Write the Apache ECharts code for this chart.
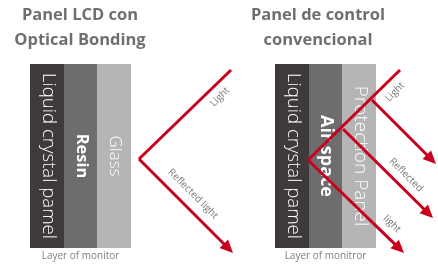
<!DOCTYPE html>
<html><head><meta charset="utf-8">
<script src="https://cdn.jsdelivr.net/npm/echarts@6/dist/echarts.min.js"></script>
<style>html,body{margin:0;padding:0;background:#fff}#c{width:438px;height:264px}</style>
</head><body><div id="c"></div>
<script>
// ---- data ----
const panelTitles = ['Panel LCD con\nOptical Bonding', 'Panel de control\nconvencional'];
const titleCenters = [80, 318];
const captions = ['Layer of monitor', 'Layer of monitror'];
const leftLayerNames = ['Liquid crystal pamel', 'Resin', 'Glass'];
const rightLayerNames = ['Liquid crystal pamel', 'Air space', 'Protection Panel'];
const leftLayerEdges = [30, 64, 97, 131];
const rightLayerEdges = [275, 309, 342, 376];
const layerTop = 64;
const layerBottom = 248;
const captionY = 256;
// rays: [x1, y1, x2, y2]
const incidentRays = [[231, 70, 139, 159], [400, 70, 308, 160]];
const reflectedRays = [[139, 159, 233, 253], [372, 100, 436, 164], [343, 129, 433, 218], [308, 160, 404, 253]];
// labels: [text, x, y, angle]
const rayLabels = [['Light', 220, 97, 45], ['Reflected light', 193, 194, -45], ['Light', 395, 92, 45], ['Reflected', 406, 175, -45], ['light', 392, 224, -45]];

// ---- styles ----
const layerColors = ['#3e3a39', '#6d6d6d', '#b4b5b4'];
const layerWeights = [300, 'bold', 300];
const layerSizes = [[18.6, 16.5, 17], [18.6, 18, 19]];
const RED = '#c8001e';
const FONT = '"Open Sans", sans-serif';

const layerData = [];
[[leftLayerEdges, leftLayerNames], [rightLayerEdges, rightLayerNames]].forEach(([edges, names], p) => {
  names.forEach((n, i) => layerData.push({value: [edges[i], edges[i + 1], layerTop, layerBottom, i, p], name: n}));
});
const captionData = [
  {value: [(leftLayerEdges[0] + leftLayerEdges[3]) / 2, captionY], name: captions[0]},
  {value: [(rightLayerEdges[0] + rightLayerEdges[3]) / 2, captionY], name: captions[1]}
];
const rayData = incidentRays.map(r => ({value: r.concat([0])})).concat(reflectedRays.map(r => ({value: r.concat([1])})));
const labelData = rayLabels.map(l => ({value: [l[1], l[2], l[3]], name: l[0]}));

const chart = echarts.init(document.getElementById('c'), null, {renderer: 'canvas'});
chart.setOption({
  animation: false,
  backgroundColor: '#ffffff',
  title: panelTitles.map((t, i) => ({
    text: t, left: titleCenters[i], top: 3, textAlign: 'center', padding: 0,
    textStyle: {fontFamily: FONT, fontSize: 16.5, fontWeight: 'bold', color: '#6f6f6f', lineHeight: 25}
  })),
  grid: {left: 0, right: 0, top: 0, bottom: 0},
  xAxis: {type: 'value', min: 0, max: 438, show: false},
  yAxis: {type: 'value', min: 0, max: 264, inverse: true, show: false},
  series: [
    {
      type: 'custom', data: layerData, z: 1,
      renderItem: (params, api) => {
        const p0 = api.coord([api.value(0), api.value(2)]);
        const p1 = api.coord([api.value(1), api.value(3)]);
        const i = api.value(4), p = api.value(5);
        const name = layerData[params.dataIndex].name;
        return {type: 'group', children: [
          {type: 'rect', shape: {x: p0[0], y: p0[1], width: p1[0] - p0[0], height: p1[1] - p0[1]}, style: {fill: layerColors[i]}},
          {type: 'text', x: (p0[0] + p1[0]) / 2 + 1, y: (p0[1] + p1[1]) / 2, rotation: -Math.PI / 2,
            style: {text: name, fill: '#ffffff', font: layerWeights[i] + ' ' + layerSizes[p][i] + 'px ' + FONT, align: 'center', verticalAlign: 'middle'}}
        ]};
      }
    },
    {
      type: 'custom', data: captionData, z: 1,
      renderItem: (params, api) => {
        const p = api.coord([api.value(0), api.value(1)]);
        return {type: 'text', x: p[0], y: p[1], style: {text: captionData[params.dataIndex].name, fill: '#808080', font: '10px ' + FONT, align: 'center', verticalAlign: 'middle'}};
      }
    },
    {
      type: 'custom', data: rayData, z: 3,
      renderItem: (params, api) => {
        const a = api.coord([api.value(0), api.value(1)]);
        const b = api.coord([api.value(2), api.value(3)]);
        const arrow = api.value(4);
        const dx = b[0] - a[0], dy = b[1] - a[1];
        const len = Math.sqrt(dx * dx + dy * dy);
        const ux = dx / len, uy = dy / len;
        const children = [];
        const hl = 13, hw = 6;
        const end = arrow ? [b[0] - ux * (hl - 2), b[1] - uy * (hl - 2)] : b;
        children.push({type: 'line', shape: {x1: a[0], y1: a[1], x2: end[0], y2: end[1]}, style: {stroke: RED, lineWidth: 3, lineCap: 'butt'}});
        if (arrow) {
          const bx = b[0] - ux * hl, by = b[1] - uy * hl;
          children.push({type: 'polygon', shape: {points: [[b[0], b[1]], [bx - uy * hw, by + ux * hw], [bx + uy * hw, by - ux * hw]]}, style: {fill: RED}});
        }
        return {type: 'group', children};
      }
    },
    {
      type: 'custom', data: labelData, z: 4,
      renderItem: (params, api) => {
        const p = api.coord([api.value(0), api.value(1)]);
        return {type: 'text', x: p[0], y: p[1], rotation: api.value(2) * Math.PI / 180,
          style: {text: labelData[params.dataIndex].name, fill: '#7a7a7a', font: '10px ' + FONT, align: 'center', verticalAlign: 'middle'}};
      }
    }
  ]
});
</script></body></html>
